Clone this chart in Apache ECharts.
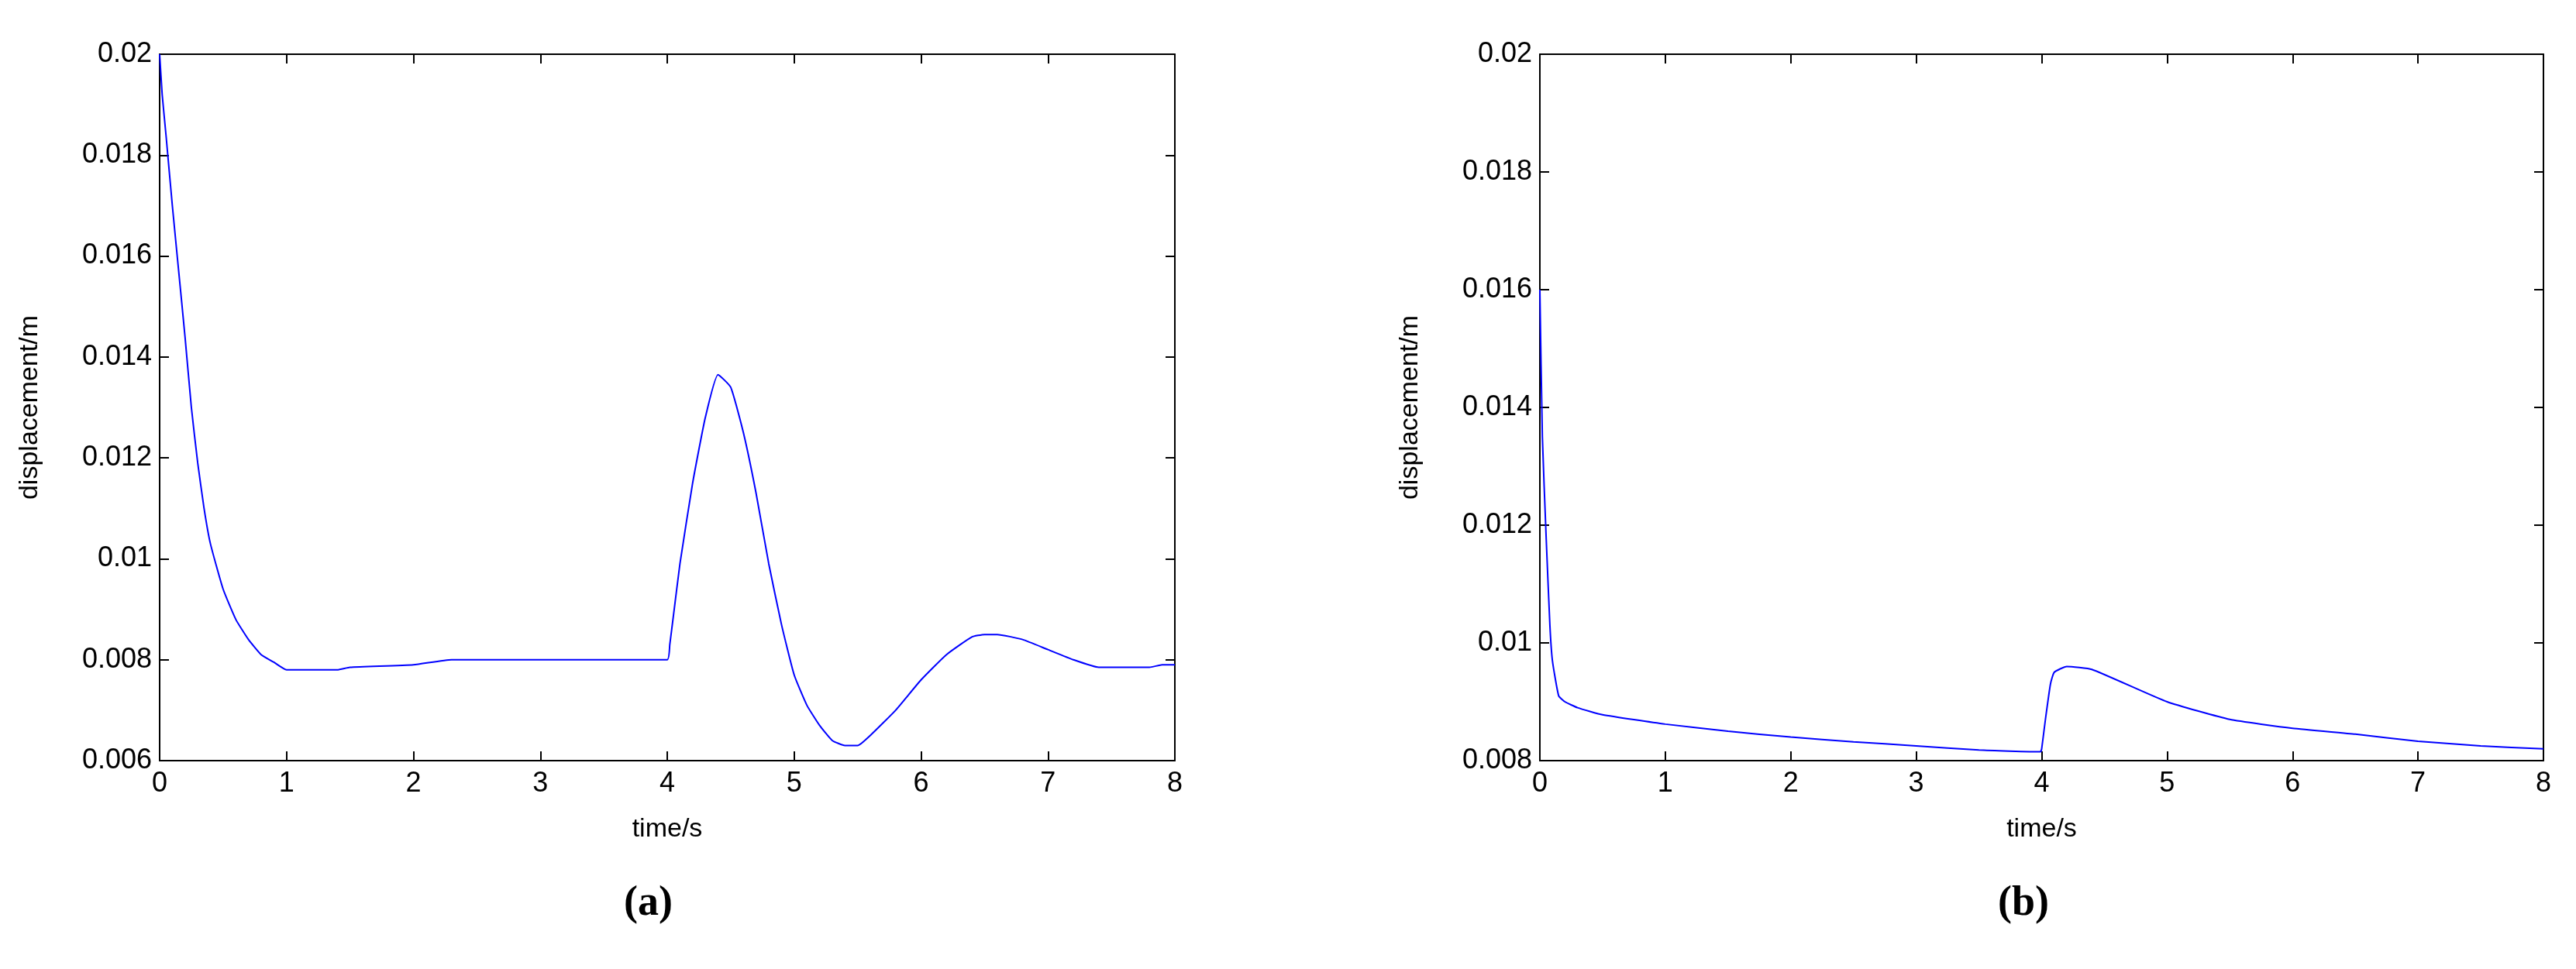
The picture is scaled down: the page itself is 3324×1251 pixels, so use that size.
<!DOCTYPE html>
<html>
<head>
<meta charset="utf-8">
<script src="https://cdn.jsdelivr.net/npm/echarts@6/dist/echarts.min.js"></script>
<style>html,body{margin:0;background:#fff}#chart{width:3324px;height:1251px}</style>
</head>
<body>
<div id="chart"></div>
<script>
var myChart = echarts.init(document.getElementById("chart"));

// panel (a)
var timeA = [0, 0.02, 0.05, 0.1, 0.15, 0.2, 0.25, 0.3, 0.35, 0.4, 0.5, 0.6, 0.7, 0.8, 0.9, 1.0, 1.4, 1.5, 2.0, 2.3, 4.0, 4.02, 4.05, 4.1, 4.2, 4.3, 4.4, 4.5, 4.6, 4.7, 4.8, 4.9, 5.0, 5.1, 5.2, 5.3, 5.4, 5.5, 5.6, 5.8, 6.0, 6.2, 6.4, 6.5, 6.6, 6.8, 7.0, 7.2, 7.4, 7.8, 7.9, 8.0];
var dispA = [0.0200, 0.0192, 0.0184, 0.0170, 0.0157, 0.0144, 0.0130, 0.0119, 0.0110, 0.0103, 0.0094, 0.0088, 0.0084, 0.0081, 0.00795, 0.0078, 0.0078, 0.00785, 0.0079, 0.0080, 0.0080, 0.0083, 0.0089, 0.0099, 0.0115, 0.0128, 0.01365, 0.0134, 0.0125, 0.0113, 0.0099, 0.0087, 0.0077, 0.0071, 0.0067, 0.0064, 0.0063, 0.0063, 0.0065, 0.0070, 0.0076, 0.0081, 0.00845, 0.0085, 0.0085, 0.0084, 0.0082, 0.0080, 0.00785, 0.00785, 0.0079, 0.0079];

// panel (b)
var timeB = [0, 0.02, 0.05, 0.08, 0.1, 0.15, 0.2, 0.3, 0.5, 1.0, 1.5, 2.0, 2.5, 3.0, 3.5, 3.99, 4.0, 4.03, 4.07, 4.1, 4.2, 4.4, 5.0, 5.5, 6.0, 6.5, 7.0, 7.5, 8.0];
var dispB = [0.0160, 0.0135, 0.0118, 0.0103, 0.0097, 0.0091, 0.0090, 0.0089, 0.00878, 0.00862, 0.0085, 0.0084, 0.00832, 0.00825, 0.00818, 0.00815, 0.0082, 0.0087, 0.0093, 0.0095, 0.0096, 0.00955, 0.0090, 0.0087, 0.00855, 0.00845, 0.00833, 0.00825, 0.0082];

var xTicks = [0, 1, 2, 3, 4, 5, 6, 7, 8];
var yTicksA = [0.006, 0.008, 0.01, 0.012, 0.014, 0.016, 0.018, 0.02];
var yTicksB = [0.008, 0.01, 0.012, 0.014, 0.016, 0.018, 0.02];

var font = "Liberation Sans, Arial, sans-serif";
var tick = { show: true, inside: true, length: 12, lineStyle: { color: "#000", width: 2 } };
var line = { show: true, onZero: false, lineStyle: { color: "#000", width: 2 } };

function fmt(v) { return String(+v.toFixed(3)); }

function xAxes(g) {
	return [
		{ type: "value", gridIndex: g, min: 0, max: 8, interval: 1, axisLine: line, axisTick: tick, splitLine: { show: false },
			axisLabel: { color: "#000", fontSize: 36, fontFamily: font, margin: 12 },
			name: "time/s", nameLocation: "middle", nameGap: 72, nameTextStyle: { color: "#000", fontSize: 34, fontFamily: font } },
		{ type: "value", gridIndex: g, position: "top", min: 0, max: 8, interval: 1, axisLine: line, axisTick: tick,
			axisLabel: { show: false }, splitLine: { show: false } }
	];
}
function yAxes(g, ticks) {
	return [
		{ type: "value", gridIndex: g, min: ticks[0], max: 0.02, interval: 0.002, axisLine: line, axisTick: tick, splitLine: { show: false },
			axisLabel: { color: "#000", fontSize: 36, fontFamily: font, margin: 10, formatter: fmt },
			name: "displacement/m", nameLocation: "middle", nameGap: 150, nameTextStyle: { color: "#000", fontSize: 34, fontFamily: font } },
		{ type: "value", gridIndex: g, position: "right", min: ticks[0], max: 0.02, interval: 0.002, axisLine: line, axisTick: tick,
			axisLabel: { show: false }, splitLine: { show: false } }
	];
}

var option = {
	backgroundColor: "#fff",
	animation: false,
	grid: [
		{ left: 206, width: 1310, top: 70, height: 912 },
		{ left: 1987, width: 1295, top: 70, height: 912 }
	],
	graphic: [
		{ type: "text", left: 805, top: 1140, style: { text: "(a)", fill: "#000", font: "bold 54px Liberation Serif, serif" } },
		{ type: "text", left: 2578, top: 1140, style: { text: "(b)", fill: "#000", font: "bold 54px Liberation Serif, serif" } }
	],
	xAxis: xAxes(0).concat(xAxes(1)),
	yAxis: yAxes(0, yTicksA).concat(yAxes(1, yTicksB)),
	series: [
		{ type: "line", xAxisIndex: 0, yAxisIndex: 0, showSymbol: false, smooth: 0.15,
			lineStyle: { color: "#0000ff", width: 2 }, data: timeA.map(function (t, i) { return [t, dispA[i]]; }) },
		{ type: "line", xAxisIndex: 2, yAxisIndex: 2, showSymbol: false, smooth: 0.15,
			lineStyle: { color: "#0000ff", width: 2 }, data: timeB.map(function (t, i) { return [t, dispB[i]]; }) }
	]
};

myChart.setOption(option);
</script>
</body>
</html>
